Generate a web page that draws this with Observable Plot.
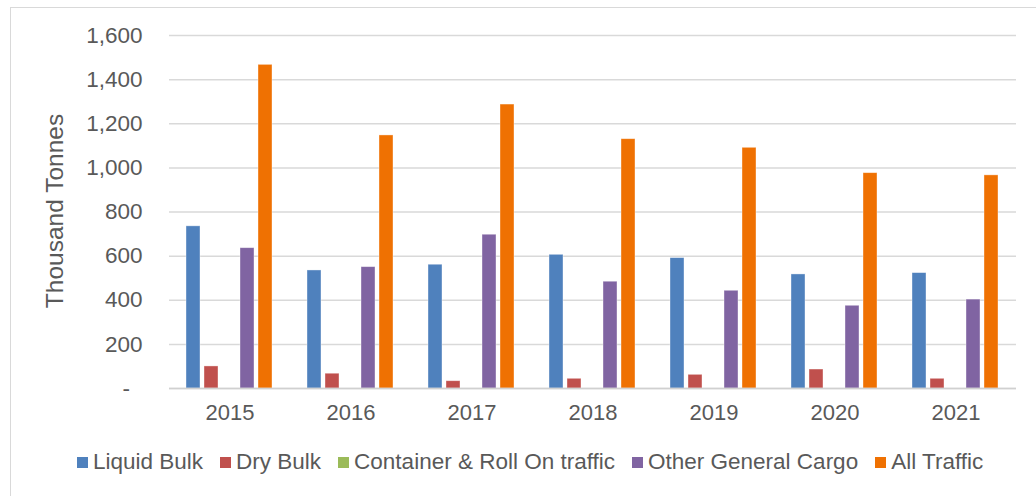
<!DOCTYPE html>
<html>
<head>
<meta charset="utf-8">
<script src="https://cdn.jsdelivr.net/npm/d3@7"></script>
<script src="https://cdn.jsdelivr.net/npm/@observablehq/plot@0.6"></script>
<style>
  html, body { margin: 0; padding: 0; background: #fff; }
  body { width: 1036px; height: 496px; position: relative; overflow: hidden; font-family: "Liberation Sans", Arial, sans-serif; }
  #frame { position: absolute; left: 10px; top: 7px; width: 1100px; height: 600px; border-left: 1.5px solid #d9d9d9; border-top: 1.5px solid #d9d9d9; box-sizing: border-box; }
  #chart { position: absolute; left: 0; top: 0; }
  #ytitle { position: absolute; left: 55px; top: 211px; transform: translate(-50%, -50%) rotate(-90deg); font-size: 24.5px; color: #595959; white-space: nowrap; }
  #legend { position: absolute; left: 77px; top: 449px; display: flex; align-items: center; font-size: 22.5px; color: #595959; white-space: nowrap; }
  .item { display: flex; align-items: center; margin-right: 17px; }
  .sw { width: 11px; height: 11px; margin-right: 5px; display: inline-block; }
</style>
</head>
<body>
<div id="frame"></div>
<div id="chart"></div>
<div id="ytitle">Thousand Tonnes</div>
<div id="legend"></div>
<script>
const years = ["2015", "2016", "2017", "2018", "2019", "2020", "2021"];
const seriesNames = ["Liquid Bulk", "Dry Bulk", "Container & Roll On traffic", "Other General Cargo", "All Traffic"];
const seriesColors = ["#4F81BD", "#C0504D", "#9BBB59", "#8064A2", "#EF7102"];
const liquidBulk = [735, 535, 561, 606, 591, 517, 523];
const dryBulk = [100, 67, 33, 44, 62, 86, 44];
const containerRoRo = [0, 0, 0, 0, 0, 0, 0];
const otherGeneral = [636, 550, 697, 484, 443, 375, 403];
const allTraffic = [1467, 1147, 1287, 1130, 1091, 976, 966];
const yTicks = [0, 200, 400, 600, 800, 1000, 1200, 1400, 1600];

const seriesValues = [liquidBulk, dryBulk, containerRoRo, otherGeneral, allTraffic];
const data = [];
years.forEach((yr, i) => {
  seriesNames.forEach((s, j) => {
    data.push({year: yr, series: s, value: seriesValues[j][i]});
  });
});

const fmt = d3.format(",");
const plot = Plot.plot({
  width: 1036,
  height: 430,
  marginLeft: 166,
  marginRight: 18,
  marginTop: 35,
  marginBottom: 42,
  style: {fontFamily: '"Liberation Sans", Arial, sans-serif', fontSize: "22px", color: "#595959", background: "transparent"},
  fx: {domain: years, padding: 0, label: null},
  x: {domain: seriesNames, paddingInner: 0.2, paddingOuter: 0.85, axis: null},
  y: {domain: [0, 1600], label: null},
  color: {domain: seriesNames, range: seriesColors},
  marks: [
    Plot.ruleY(yTicks, {stroke: "#d9d9d9", strokeWidth: 1.5}),
    Plot.barY(data, {fx: "year", x: "series", y: "value", fill: "series", stroke: "#ffffff", strokeOpacity: 0.5, strokeWidth: 0.75}),
    Plot.ruleY([0], {stroke: "#d0d0d0", strokeWidth: 1.5}),
    Plot.axisY(yTicks, {
      tickSize: 0, tickPadding: 27, fontSize: 22.5, fill: "#595959",
      tickFormat: d => d === 0 ? "-\u00A0\u00A0" : fmt(d),
      label: null
    }),
    Plot.axisFx({anchor: "bottom", tickSize: 0, tickPadding: 16, fontSize: 22, fill: "#595959", label: null})
  ]
});
document.getElementById("chart").appendChild(plot);

const legend = document.getElementById("legend");
seriesNames.forEach((s, j) => {
  const it = document.createElement("div");
  it.className = "item";
  const sw = document.createElement("span");
  sw.className = "sw";
  sw.style.background = seriesColors[j];
  const tx = document.createElement("span");
  tx.textContent = s;
  it.appendChild(sw);
  it.appendChild(tx);
  legend.appendChild(it);
});
</script>
</body>
</html>
